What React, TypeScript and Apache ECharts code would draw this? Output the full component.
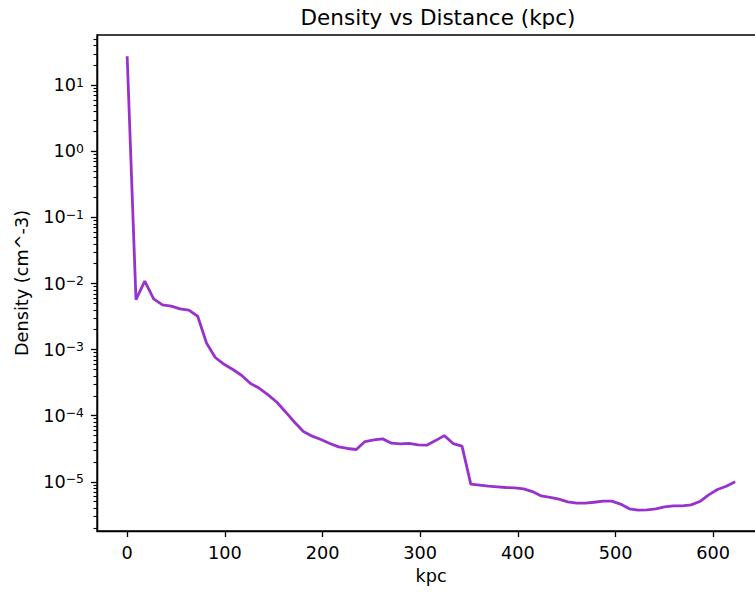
import React, { useEffect, useRef } from "react";
import * as echarts from "echarts";

const distances = [
  0, 9.0, 18.0, 27.1, 36.1, 45.1, 54.1, 63.1, 72.2, 81.2,
  90.2, 99.2, 108.2, 117.3, 126.3, 135.3, 144.3, 153.3, 162.4, 171.4,
  180.4, 189.4, 198.4, 207.5, 216.5, 225.5, 234.5, 243.5, 252.6, 261.6,
  270.6, 279.6, 288.6, 297.7, 306.7, 315.7, 324.7, 333.7, 342.8, 351.8,
  360.8, 369.8, 378.8, 387.9, 396.9, 405.9, 414.9, 423.9, 433.0, 442.0,
  451.0, 460.0, 469.0, 478.1, 487.1, 496.1, 505.1, 514.1, 523.2, 532.2,
  541.2, 550.2, 559.2, 568.3, 577.3, 586.3, 595.3, 604.3, 613.4, 622.4,
];

const densities = [
  27.5, 5.7e-3, 1.09e-2, 5.85e-3, 4.74e-3, 4.54e-3, 4.13e-3, 3.95e-3, 3.2e-3, 1.26e-3,
  7.6e-4, 6.0e-4, 5.0e-4, 4.06e-4, 3.07e-4, 2.6e-4, 2.07e-4, 1.6e-4, 1.13e-4, 7.97e-5,
  5.77e-5, 4.9e-5, 4.36e-5, 3.8e-5, 3.37e-5, 3.19e-5, 3.08e-5, 4.07e-5, 4.3e-5, 4.46e-5,
  3.84e-5, 3.74e-5, 3.8e-5, 3.61e-5, 3.58e-5, 4.2e-5, 5.0e-5, 3.79e-5, 3.46e-5, 9.2e-6,
  8.9e-6, 8.6e-6, 8.4e-6, 8.2e-6, 8.1e-6, 7.8e-6, 7.1e-6, 6.1e-6, 5.8e-6, 5.46e-6,
  4.97e-6, 4.75e-6, 4.75e-6, 4.9e-6, 5.09e-6, 5.09e-6, 4.6e-6, 3.9e-6, 3.72e-6, 3.76e-6,
  3.9e-6, 4.17e-6, 4.32e-6, 4.32e-6, 4.47e-6, 5.03e-6, 6.34e-6, 7.64e-6, 8.57e-6, 1.0e-5,
];

const xTicks = [0, 100, 200, 300, 400, 500, 600];
const yMajorTicks = [1e-5, 1e-4, 1e-3, 1e-2, 1e-1, 1e0, 1e1];
const yMinorMultipliers = [2, 3, 4, 5, 6, 7, 8, 9];
const yMinorDecades = [1e-6, 1e-5, 1e-4, 1e-3, 1e-2, 1e-1, 1e0, 1e1];

const titleText = "Density vs Distance (kpc)";
const xName = "kpc";
const yName = "Density (cm^-3)";

const FONT = "DejaVu Sans";
const LINE_COLOR = "#9932CC";
const Y_MIN = 1.8e-6;
const Y_MAX = 57.7;

const yMinorTicks: number[] = [];
yMinorDecades.forEach((d) =>
  yMinorMultipliers.forEach((m) => {
    const v = d * m;
    if (v >= Y_MIN && v <= Y_MAX) yMinorTicks.push(v);
  })
);

export default function App() {
  const ref = useRef<HTMLDivElement>(null);

  useEffect(() => {
    if (!ref.current) return;
    const chart = echarts.init(ref.current, null, { renderer: "svg" });
    const seriesData = distances.map((x, i) => [x, densities[i]]);
    chart.setOption({
      animation: false,
      backgroundColor: "#ffffff",
      title: {
        text: titleText,
        left: 433,
        top: 1,
        textAlign: "center",
        textStyle: {
          fontFamily: FONT,
          fontSize: 21.5,
          fontWeight: "normal",
          color: "#000",
        },
      },
      grid: {
        left: 97,
        top: 35,
        width: 668,
        height: 496,
        show: true,
        borderColor: "#000",
        borderWidth: 1.3,
        backgroundColor: "transparent",
        outerBoundsMode: "none",
        containLabel: false,
      },
      xAxis: {
        type: "value",
        min: -30.9,
        max: 653,
        name: xName,
        nameLocation: "middle",
        nameGap: 34,
        nameTextStyle: { fontFamily: FONT, fontSize: 17.7, color: "#000" },
        axisLine: { show: true, onZero: false, lineStyle: { color: "#000", width: 1.3 } },
        axisTick: {
          show: true,
          length: 6,
          inside: false,
          customValues: xTicks,
          lineStyle: { color: "#000", width: 1.3 },
        },
        axisLabel: {
          customValues: xTicks,
          margin: 13,
          fontFamily: FONT,
          fontSize: 17.7,
          color: "#000",
        },
        splitLine: { show: false },
      },
      yAxis: [
        {
          type: "log",
          logBase: 10,
          min: Y_MIN,
          max: Y_MAX,
          position: "left",
          name: yName,
          nameLocation: "middle",
          nameGap: 66,
          nameRotate: 90,
          nameTextStyle: { fontFamily: FONT, fontSize: 17.7, color: "#000" },
          axisLine: { show: true, onZero: false, lineStyle: { color: "#000", width: 1.3 } },
          axisTick: {
            show: true,
            length: 6,
            customValues: yMajorTicks,
            lineStyle: { color: "#000", width: 1.3 },
          },
          axisLabel: {
            customValues: yMajorTicks,
            margin: 13,
            formatter: (v: number) => {
              const e = Math.round(Math.log10(v));
              const s = e < 0 ? "\u2212" + String(-e) : String(e);
              return "{b|10}{s|" + s + "}";
            },
            rich: {
              b: { fontFamily: FONT, fontSize: 17.7, color: "#000" },
              s: {
                fontFamily: FONT,
                fontSize: 12.4,
                color: "#000",
                verticalAlign: "top",
              },
            },
          },
          splitLine: { show: false },
        },
        {
          type: "log",
          logBase: 10,
          min: Y_MIN,
          max: Y_MAX,
          position: "left",
          offset: 0,
          axisLine: { show: true, onZero: false, lineStyle: { color: "#000", width: 1.3 } },
          axisTick: {
            show: true,
            length: 3.5,
            customValues: yMinorTicks,
            lineStyle: { color: "#000", width: 1.1 },
          },
          axisLabel: { show: false },
          splitLine: { show: false },
        },
      ],
      series: [
        {
          type: "line",
          data: seriesData,
          yAxisIndex: 0,
          showSymbol: false,
          symbol: "none",
          lineStyle: { color: LINE_COLOR, width: 2.8 },
          itemStyle: { color: LINE_COLOR },
        },
      ],
    });
    return () => chart.dispose();
  }, []);

  return (
    <div
      ref={ref}
      style={{ position: "absolute", left: 0, top: 0, width: 755, height: 592 }}
    />
  );
}
